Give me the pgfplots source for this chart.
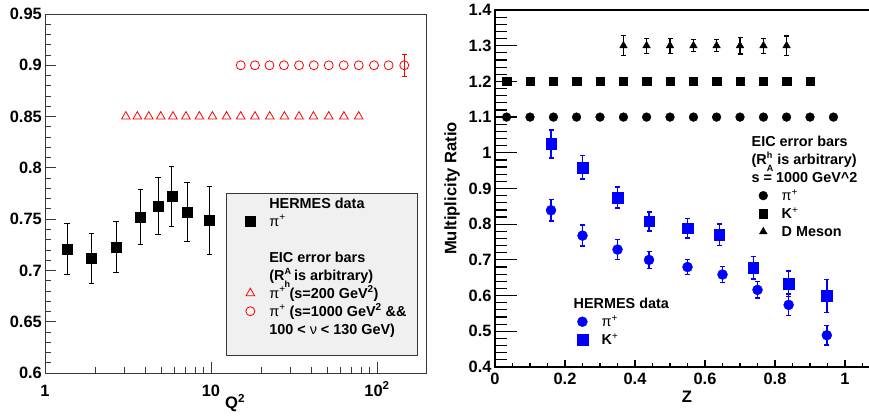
\documentclass[border=0pt]{standalone}
\usepackage{pgfplots}
\pgfplotsset{compat=1.18}
\usepackage{fontspec}
\setmainfont{Liberation Sans}

\definecolor{framegray}{RGB}{55,55,55}
\definecolor{legfill}{RGB}{240,240,240}

\newcommand{\pip}{{\mdseries π\textsuperscript{+}}}
\newcommand{\Kp}{K{\mdseries\textsuperscript{+}}}
\newcommand{\sfs}{\fontsize{9}{9}\selectfont}
\newcommand{\RAh}{R\makebox[0pt][l]{\raisebox{6pt}{\sfs A}}\raisebox{-7pt}{\sfs h}}
\newcommand{\RhA}{R\makebox[0pt][l]{\raisebox{6pt}{\sfs h}}\raisebox{-7pt}{\sfs A}}

\pgfplotsset{
  rootbase/.style={
    scale only axis, anchor=south west,
    tick pos=left, tick align=inside,
    /pgf/number format/assume math mode=true,
    tick label style={font=\fontsize{16.4}{18}\selectfont\bfseries},
    label style={font=\fontsize{16.6}{18}\selectfont\bfseries},
    legend cell align=left,
    legend style={font=\fontsize{14.4}{16}\selectfont\bfseries, draw=none, fill=none,
      inner sep=0pt, row sep=0pt, column sep=12pt,
      nodes={inner ysep=2pt, text height=12pt, text depth=2pt}},
  },
}

\begin{document}
\begin{tikzpicture}
\useasboundingbox (0,0) rectangle (869pt,415pt);

% left panel: ratio vs Q^2
\begin{axis}[rootbase, at={(45pt,42pt)}, width=381pt, height=359pt,
  xmode=log, xmin=1, xmax=197.4, ymin=0.6, ymax=0.95,
  xtick={1,10,100}, xticklabels={1,10,10\textsuperscript{2}},
  ytick={0.6,0.65,0.7,0.75,0.8,0.85,0.9,0.95},
  yticklabels={0.6,0.65,0.7,0.75,0.8,0.85,0.9,0.95},
  minor y tick num=4,
  major tick length=11pt, minor tick length=6pt,
  axis line style={framegray, line width=0.8pt},
  tick style={framegray, line width=0.8pt},
  xticklabel style={anchor=base, yshift=-23pt},
  yticklabel style={inner xsep=3pt},
  xlabel={Q\textsuperscript{2}},
  xlabel style={at={(axis description cs:0.499,-0.0836)}, anchor=center},
  legend style={at={(0.516,0.4986)}, anchor=north west},
]
\draw[framegray, line width=0.8pt, fill=legfill]
  (axis description cs:0.477,0.050) rectangle (axis description cs:0.978,0.499);

\addplot[forget plot, only marks, mark=square*, mark size=5pt, black,
  error bars/.cd, y dir=both, y explicit,
  error bar style={line width=0.8pt, black},
  error mark options={rotate=90, mark size=2.7pt, line width=0.8pt, black}]
  coordinates {
  (1.36,0.721) +- (0,0.0245)
  (1.91,0.712) +- (0,0.0245)
  (2.68,0.723) +- (0,0.025)
  (3.75,0.752) +- (0,0.027)
  (4.80,0.763) +- (0,0.028)
  (5.80,0.772) +- (0,0.029)
  (7.17,0.757) +- (0,0.029)
  (9.77,0.749) +- (0,0.033)
  };

\addplot[forget plot, only marks, mark=triangle, mark size=5pt, red,
  mark options={line width=0.8pt}]
  coordinates {
  (3.07,0.85) (3.60,0.85) (4.22,0.85) (4.98,0.85) (5.90,0.85) (7.07,0.85)
  (8.51,0.85) (10.2,0.85) (12.4,0.85) (15.1,0.85) (18.4,0.85) (22.6,0.85)
  (27.7,0.85) (33.9,0.85) (41.4,0.85) (51.2,0.85) (63.2,0.85) (77.6,0.85)
  };

\addplot[forget plot, only marks, mark=o, mark size=4.5pt, red,
  mark options={line width=0.8pt}]
  coordinates {
  (15.1,0.9) (18.4,0.9) (22.5,0.9) (27.5,0.9) (33.9,0.9) (41.6,0.9)
  (51.2,0.9) (63.0,0.9) (77.6,0.9) (96.0,0.9) (117.5,0.9)
  };
\addplot[forget plot, only marks, mark=o, mark size=4.5pt, red,
  mark options={line width=0.8pt},
  error bars/.cd, y dir=both, y explicit,
  error bar style={line width=0.8pt, red},
  error mark options={rotate=90, mark size=2.7pt, line width=0.8pt, red}]
  coordinates {(146,0.9) +- (0,0.011)};

\addlegendimage{empty legend}\addlegendentry{HERMES data}
\addlegendimage{only marks, mark=square*, mark size=5pt, black}\addlegendentry{\pip}
\addlegendimage{empty legend}\addlegendentry{~}
\addlegendimage{empty legend}\addlegendentry{EIC error bars}
\addlegendimage{empty legend}\addlegendentry{(\RAh\ is arbitrary)}
\addlegendimage{only marks, mark=triangle, mark size=5pt, red, mark options={line width=0.8pt}}
\addlegendentry{\pip\ (s=200 GeV\textsuperscript{2})}
\addlegendimage{only marks, mark=o, mark size=4.5pt, red, mark options={line width=0.8pt}}
\addlegendentry{\pip\ (s=1000 GeV\textsuperscript{2} \&\&}
\addlegendimage{empty legend}\addlegendentry{100 < {\mdseries ν} < 130 GeV)}
\end{axis}

% right panel: frame, y ticks, EIC projections
\begin{axis}[rootbase, at={(495pt,48pt)}, width=380pt, height=357pt,
  xmin=0, xmax=1.0857, ymin=0.4, ymax=1.4,
  axis line style={black, line width=1.4pt},
  xtick=\empty,
  ytick={0.4,0.5,0.6,0.7,0.8,0.9,1,1.1,1.2,1.3,1.4},
  yticklabels={0.4,0.5,0.6,0.7,0.8,0.9,1,1.1,1.2,1.3,1.4},
  minor y tick num=4,
  major tick length=22pt, minor tick length=12pt,
  tick style={black, line width=1.2pt},
  ylabel={Multiplicity Ratio},
  ylabel style={at={(axis description cs:-0.113,0.5)}, anchor=center},
  legend style={at={(0.683,0.657)}, anchor=north west},
]
\addplot[forget plot, only marks, mark=*, mark size=4.4pt, black]
  coordinates {
  (0.033,1.1) (0.100,1.1) (0.167,1.1) (0.233,1.1) (0.300,1.1)
  (0.367,1.1) (0.433,1.1) (0.500,1.1) (0.567,1.1) (0.633,1.1)
  (0.700,1.1) (0.767,1.1) (0.833,1.1) (0.900,1.1) (0.967,1.1)
  };
\addplot[forget plot, only marks, mark=square*, mark size=4.2pt, black]
  coordinates {
  (0.033,1.2) (0.100,1.2) (0.167,1.2) (0.233,1.2) (0.300,1.2)
  (0.367,1.2) (0.433,1.2) (0.500,1.2) (0.567,1.2) (0.633,1.2)
  (0.700,1.2) (0.767,1.2) (0.833,1.2) (0.900,1.2)
  };
\addplot[forget plot, only marks, mark=triangle*, mark size=4.4pt, black,
  error bars/.cd, y dir=both, y explicit,
  error bar style={line width=1.3pt, black},
  error mark options={rotate=90, mark size=2.5pt, line width=1.3pt, black}]
  coordinates {
  (0.367,1.3) +- (0,0.028)
  (0.433,1.3) +- (0,0.021)
  (0.500,1.3) +- (0,0.021)
  (0.567,1.3) +- (0,0.017)
  (0.633,1.3) +- (0,0.017)
  (0.700,1.3) +- (0,0.023)
  (0.767,1.3) +- (0,0.021)
  (0.833,1.3) +- (0,0.027)
  };
\addlegendimage{empty legend}\addlegendentry{\hspace{-30pt}EIC error bars}
\addlegendimage{empty legend}\addlegendentry{\hspace{-30pt}(\RhA\ is arbitrary)}
\addlegendimage{empty legend}\addlegendentry{\hspace{-30pt}s = 1000 GeV\textasciicircum 2}
\addlegendimage{only marks, mark=*, mark size=4.4pt, black}\addlegendentry{\pip}
\addlegendimage{only marks, mark=square*, mark size=4.2pt, black}\addlegendentry{\Kp}
\addlegendimage{only marks, mark=triangle*, mark size=4.4pt, black}\addlegendentry{D Meson}
\end{axis}

% right panel: x ticks and HERMES data
\begin{axis}[rootbase, at={(495pt,48pt)}, width=380pt, height=357pt,
  xmin=0, xmax=1.0857, ymin=0.4, ymax=1.4,
  axis line style={draw=none},
  ytick=\empty,
  xtick={0,0.2,0.4,0.6,0.8,1}, xticklabels={0,0.2,0.4,0.6,0.8,1},
  minor xtick={0.05,0.1,0.15,0.25,0.3,0.35,0.45,0.5,0.55,0.65,0.7,0.75,0.85,0.9,0.95,1.05},
  major tick length=7pt, minor tick length=4pt,
  tick style={black, line width=1.2pt},
  xticklabel style={anchor=base, yshift=-17pt},
  xlabel={Z},
  xlabel style={at={(axis description cs:0.505,-0.084)}, anchor=center},
  legend style={at={(0.207,0.203)}, anchor=north west},
]
\addplot[forget plot, only marks, mark=*, mark size=5pt, blue,
  error bars/.cd, y dir=both, y explicit,
  error bar style={line width=1.6pt, blue},
  error mark options={rotate=90, mark size=2.5pt, line width=1.6pt, blue}]
  coordinates {
  (0.160,0.839) +- (0,0.030)
  (0.250,0.768) +- (0,0.029)
  (0.350,0.729) +- (0,0.028)
  (0.440,0.700) +- (0,0.024)
  (0.550,0.680) +- (0,0.021)
  (0.650,0.659) +- (0,0.022)
  (0.750,0.616) +- (0,0.023)
  (0.839,0.574) +- (0,0.030)
  (0.948,0.489) +- (0,0.027)
  };
\addplot[forget plot, only marks, mark=square*, mark size=5.3pt, blue,
  error bars/.cd, y dir=both, y explicit,
  error bar style={line width=1.6pt, blue},
  error mark options={rotate=90, mark size=2.5pt, line width=1.6pt, blue}]
  coordinates {
  (0.160,1.025) +- (0,0.039)
  (0.250,0.959) +- (0,0.033)
  (0.350,0.875) +- (0,0.029)
  (0.440,0.808) +- (0,0.027)
  (0.550,0.789) +- (0,0.027)
  (0.641,0.770) +- (0,0.030)
  (0.738,0.678) +- (0,0.032)
  (0.839,0.633) +- (0,0.036)
  (0.948,0.599) +- (0,0.046)
  };
\addlegendimage{empty legend}\addlegendentry{\hspace{-28pt}HERMES data}
\addlegendimage{only marks, mark=*, mark size=5pt, blue}\addlegendentry{\pip}
\addlegendimage{only marks, mark=square*, mark size=5.3pt, blue}\addlegendentry{\Kp}
\end{axis}
\end{tikzpicture}
\end{document}
